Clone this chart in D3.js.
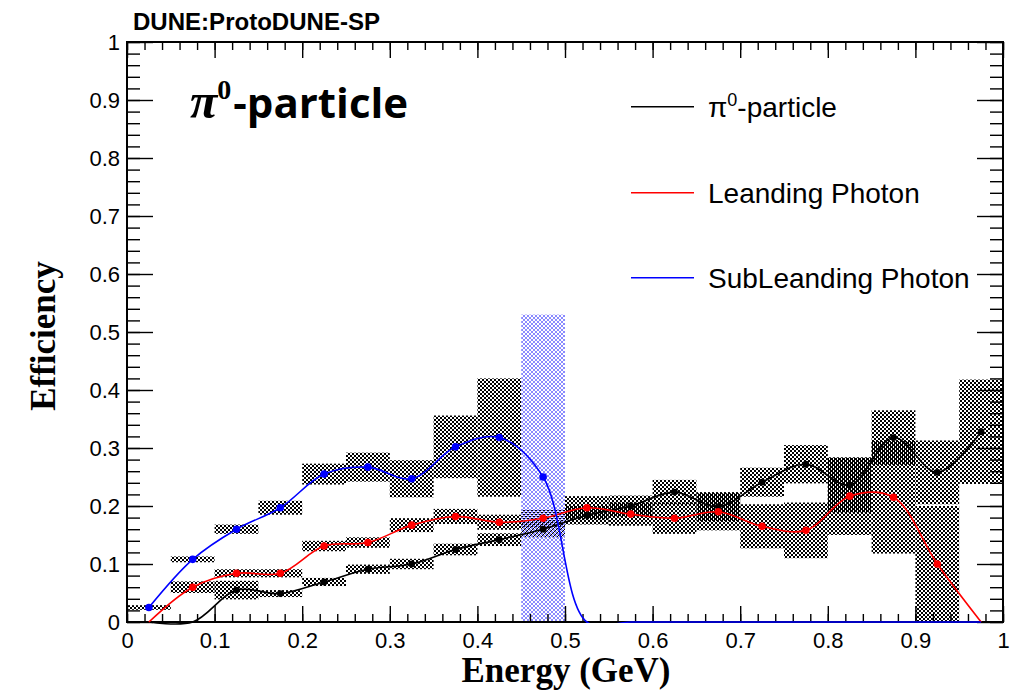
<!DOCTYPE html>
<html>
<head>
<meta charset="utf-8">
<script src="https://cdn.jsdelivr.net/npm/d3@7"></script>
<style>
  body { margin: 0; background: #fff; }
  svg { display: block; }
</style>
</head>
<body>
<div id="wrapper"></div>
<script>
// bin centres (GeV), bins are 0.05 wide
const energy = [0.025, 0.075, 0.125, 0.175, 0.225, 0.275, 0.325, 0.375, 0.425, 0.475,
                0.525, 0.575, 0.625, 0.675, 0.725, 0.775, 0.825, 0.875, 0.925, 0.975];
const binWidth = 0.05;

const pi0Eff = [0, 0, 0.055, 0.049, 0.069, 0.091, 0.100, 0.125, 0.142, 0.160,
                0.184, 0.200, 0.224, 0.199, 0.241, 0.272, 0.236, 0.318, 0.258, 0.328];
const pi0Err = [0, 0, 0.016, 0.006, 0.007, 0.008, 0.009, 0.010, 0.011, 0.014,
                0.016, 0.018, 0.021, 0.025, 0.025, 0.033, 0.047, 0.047, 0.055, 0.090];

const leadEff = [0, 0.060, 0.084, 0.084, 0.131, 0.137, 0.167, 0.182, 0.172, 0.179,
                 0.197, 0.186, 0.179, 0.190, 0.165, 0.158, 0.217, 0.215, 0.100, 0];
const leadErr = [0, 0.010, 0.007, 0.007, 0.009, 0.009, 0.012, 0.013, 0.013, 0.015,
                 0.020, 0.020, 0.027, 0.032, 0.038, 0.048, 0.067, 0.097, 0.100, 0];

const subEff = [0.025, 0.108, 0.160, 0.197, 0.255, 0.267, 0.247, 0.302, 0.318, 0.250,
                0, 0, 0, 0, 0, 0, 0, 0, 0, 0];
const subErr = [0.004, 0.005, 0.008, 0.012, 0.018, 0.025, 0.032, 0.054, 0.102, 0.280,
                0, 0, 0, 0, 0, 0, 0, 0, 0, 0];

const xMajor = [0, 0.1, 0.2, 0.3, 0.4, 0.5, 0.6, 0.7, 0.8, 0.9, 1];
const yMajor = [0, 0.1, 0.2, 0.3, 0.4, 0.5, 0.6, 0.7, 0.8, 0.9, 1];
const minorStep = 0.02;

const legendNames = ["π0-particle", "Leanding Photon", "SubLeanding Photon"];

const width = 1021, height = 691;
const padL = 127, padR = 1003, padT = 42, padB = 622;

const svg = d3.select("#wrapper").append("svg")
    .attr("width", width)
    .attr("height", height)

const x = d3.scaleLinear().domain([0, 1]).range([padL, padR])
const y = d3.scaleLinear().domain([0, 1]).range([padB, padT])

// checker fill patterns (ROOT style hatch)
const defs = svg.append("defs")
function checker(id, color, dx, dy) {
    const p = defs.append("pattern")
        .attr("id", id)
        .attr("width", 4).attr("height", 4)
        .attr("patternUnits", "userSpaceOnUse")
        .attr("patternTransform", "translate(" + dx + "," + dy + ")")
    p.append("rect").attr("x", 0).attr("y", 0).attr("width", 2).attr("height", 2).attr("fill", color)
    p.append("rect").attr("x", 2).attr("y", 2).attr("width", 2).attr("height", 2).attr("fill", color)
}
checker("chk0", "#000", 0, 0)
checker("chk1", "#000", 1, 0)
checker("chk2", "#000", 0, 1)
checker("chkBlue", "#8a8aff", 1, 1)

// loose clip lets the black curve dip just under the axis, tight one hides blue undershoot
defs.append("clipPath").attr("id", "clipLoose")
    .append("rect")
    .attr("x", padL).attr("y", padT)
    .attr("width", padR - padL).attr("height", padB - padT + 5)
defs.append("clipPath").attr("id", "clipTight")
    .append("rect")
    .attr("x", padL).attr("y", padT)
    .attr("width", padR - padL).attr("height", padB - padT + 1)

const series = [
    { name: legendNames[0], values: pi0Eff, errors: pi0Err, color: "#000000", r: 3.4, clip: "clipLoose" },
    { name: legendNames[1], values: leadEff, errors: leadErr, color: "#ff0000", r: 3.8, clip: "clipLoose" },
    { name: legendNames[2], values: subEff, errors: subErr, color: "#0000ff", r: 3.8, clip: "clipTight" }
]

// error boxes
const boxes = svg.append("g")
series.forEach(function(s, si) {
    energy.forEach(function(e, i) {
        if (s.errors[i] <= 0) return;
        const lo = Math.max(0, s.values[i] - s.errors[i])
        const hi = Math.min(1, s.values[i] + s.errors[i])
        // the wide subleading bin is drawn in light blue in the original
        const fill = (si === 2 && s.errors[i] > 0.2) ? "url(#chkBlue)" : "url(#chk" + si + ")"
        boxes.append("rect")
            .attr("x", x(e - binWidth / 2))
            .attr("y", y(hi))
            .attr("width", x(e + binWidth / 2) - x(e - binWidth / 2))
            .attr("height", y(lo) - y(hi))
            .attr("fill", fill)
    })
})

// axes
function minors(step) {
    return d3.range(0, 1 + 1e-9, step).map(v => +v.toFixed(4))
}
const fmt = d3.format("~g")

svg.append("g").attr("transform", "translate(0," + padB + ")")
    .call(d3.axisBottom(x).tickValues(xMajor).tickSize(-16).tickSizeOuter(0).tickPadding(10).tickFormat(fmt))
svg.append("g").attr("transform", "translate(0," + padB + ")")
    .call(d3.axisBottom(x).tickValues(minors(minorStep)).tickSize(-8).tickSizeOuter(0).tickFormat(""))
svg.append("g").attr("transform", "translate(0," + padT + ")")
    .call(d3.axisTop(x).tickValues(xMajor).tickSize(-16).tickSizeOuter(0).tickFormat(""))
svg.append("g").attr("transform", "translate(0," + padT + ")")
    .call(d3.axisTop(x).tickValues(minors(minorStep)).tickSize(-8).tickSizeOuter(0).tickFormat(""))

svg.append("g").attr("transform", "translate(" + padL + ",0)")
    .call(d3.axisLeft(y).tickValues(yMajor).tickSize(-26).tickSizeOuter(0).tickPadding(7).tickFormat(fmt))
svg.append("g").attr("transform", "translate(" + padL + ",0)")
    .call(d3.axisLeft(y).tickValues(minors(minorStep)).tickSize(-13).tickSizeOuter(0).tickFormat(""))
svg.append("g").attr("transform", "translate(" + padR + ",0)")
    .call(d3.axisRight(y).tickValues(yMajor).tickSize(-26).tickSizeOuter(0).tickFormat(""))
svg.append("g").attr("transform", "translate(" + padR + ",0)")
    .call(d3.axisRight(y).tickValues(minors(minorStep)).tickSize(-13).tickSizeOuter(0).tickFormat(""))

svg.selectAll(".domain").remove()
svg.selectAll(".tick line").attr("stroke", "#000").attr("stroke-width", 1.4)
svg.selectAll(".tick text")
    .attr("font-family", "Liberation Sans, Arial, Helvetica, sans-serif")
    .attr("font-size", "22px")
    .attr("fill", "#000")

svg.append("rect")
    .attr("x", padL).attr("y", padT)
    .attr("width", padR - padL).attr("height", padB - padT)
    .attr("fill", "none")
    .attr("stroke", "#000")
    .attr("stroke-width", 2)

// smooth curves + markers
const line = d3.line()
    .x((d, i) => x(energy[i]))
    .y(d => y(d))
    .curve(d3.curveCatmullRom.alpha(0.5))

series.forEach(function(s) {
    svg.append("path")
        .datum(s.values)
        .attr("clip-path", "url(#" + s.clip + ")")
        .attr("d", line)
        .attr("fill", "none")
        .attr("stroke", s.color)
        .attr("stroke-width", 1.6)
})
series.forEach(function(s) {
    svg.append("g").selectAll("circle")
        .data(s.values.map((v, i) => [energy[i], v]).filter(d => d[1] > 0))
        .join("circle")
        .attr("cx", d => x(d[0]))
        .attr("cy", d => y(d[1]))
        .attr("r", s.r)
        .attr("fill", s.color)
})

// axis titles
svg.append("text")
    .attr("x", 566).attr("y", 682)
    .attr("text-anchor", "middle")
    .attr("font-family", "Liberation Serif, Times New Roman, serif")
    .attr("font-weight", "bold")
    .attr("font-size", "35px")
    .text("Energy (GeV)")

svg.append("text")
    .attr("transform", "translate(55,336) rotate(-90)")
    .attr("text-anchor", "middle")
    .attr("font-family", "Liberation Serif, Times New Roman, serif")
    .attr("font-weight", "bold")
    .attr("font-size", "35px")
    .text("Efficiency")

// experiment label
svg.append("text")
    .attr("x", 133).attr("y", 30)
    .attr("font-family", "Liberation Sans, Arial, Helvetica, sans-serif")
    .attr("font-weight", "bold")
    .attr("font-size", "23px")
    .attr("textLength", 247)
    .attr("lengthAdjust", "spacingAndGlyphs")
    .text("DUNE:ProtoDUNE-SP")

// big in-plot label
const big = svg.append("text")
    .attr("x", 190).attr("y", 118)
big.append("tspan")
    .attr("font-family", "Liberation Serif, Times New Roman, serif")
    .attr("font-weight", "bold").attr("font-style", "italic")
    .attr("font-size", "50px")
    .text("π")
big.append("tspan")
    .attr("dy", -19)
    .attr("font-family", "Liberation Serif, Times New Roman, serif")
    .attr("font-weight", "bold")
    .attr("font-size", "28px")
    .text("0")
big.append("tspan")
    .attr("dx", 2)
    .attr("dy", 19)
    .attr("font-family", "Open Sans, Liberation Sans, sans-serif")
    .attr("font-weight", "bold")
    .attr("font-size", "42px")
    .text("-particle")

// legend
const legendY = [106.7, 192.7, 277.7]
const legend = svg.append("g")
series.forEach(function(s, i) {
    legend.append("line")
        .attr("x1", 631).attr("x2", 694)
        .attr("y1", legendY[i]).attr("y2", legendY[i])
        .attr("stroke", s.color)
        .attr("stroke-width", 1.6)
    const t = legend.append("text")
        .attr("x", 708).attr("y", legendY[i] + 10)
        .attr("font-family", "Liberation Sans, Arial, Helvetica, sans-serif")
        .attr("font-size", "28px")
    if (i === 0) {
        t.append("tspan").text("π")
        t.append("tspan").attr("dy", -11).attr("font-size", "18px").text("0")
        t.append("tspan").attr("dy", 11).text("-particle")
    } else {
        t.text(s.name)
    }
})
</script>
</body>
</html>
